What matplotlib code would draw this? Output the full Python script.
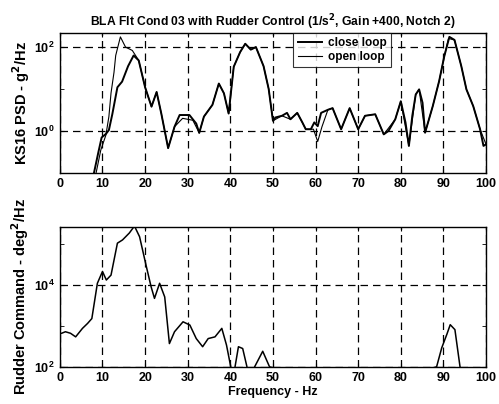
#!/usr/bin/env python3
"""
BLA flight condition 03: KS16 PSD and rudder command PSD with rudder control.
"""

import matplotlib.pyplot as plt
from matplotlib.ticker import FixedLocator, NullFormatter

plt.rcParams["font.family"] = ["Liberation Sans", "DejaVu Sans"]
plt.rcParams["font.weight"] = "bold"
plt.rcParams["mathtext.default"] = "bf"

# KS16 PSD, close loop (g^2/Hz)
close_freq = [8.0, 9.0, 9.8, 10.8, 11.5, 12.3, 13.5, 14.6, 16.0, 17.3, 18.5, 20.0,
              21.5, 22.7, 23.8, 25.4, 26.9, 28.1, 30.4, 32.0, 32.7, 33.8, 35.8,
              37.3, 38.5, 39.6, 40.8, 42.3, 43.5, 44.8, 46.0, 47.8, 49.0, 50.0,
              50.6, 52.1, 53.3, 54.1, 55.7, 56.9, 57.7, 58.9, 59.7, 60.5, 61.3,
              62.9, 64.0, 66.0, 68.0, 70.0, 71.6, 74.0, 76.0, 77.1, 78.7, 80.0,
              81.1, 81.9, 82.7, 83.5, 84.3, 85.1, 85.7, 87.5, 89.0, 90.2, 91.4,
              92.6, 94.2, 95.4, 97.0, 98.6, 99.4, 100.0]
close_psd = [0.1, 0.3, 0.7, 0.85, 1.05, 2.5, 11.0, 15.0, 35.0, 63.0, 48.0, 11.0,
             3.8, 8.5, 2.6, 0.39, 1.26, 2.4, 2.4, 1.5, 0.9, 2.2, 4.2,
             13.5, 7.9, 2.6, 34.0, 76.0, 120.0, 87.0, 100.0, 35.0, 10.0, 1.75,
             2.1, 2.3, 2.7, 1.9, 2.7, 1.6, 1.1, 1.1, 1.6, 1.3, 2.7,
             3.2, 3.5, 1.1, 3.5, 1.1, 2.3, 2.5, 0.83, 1.0, 1.9, 5.1,
             1.6, 0.44, 2.3, 7.4, 9.8, 4.7, 0.91, 3.9, 15.5, 60.0, 175.0,
             148.0, 35.0, 9.8, 3.9, 1.1, 0.44, 0.48]

# KS16 PSD, open loop (g^2/Hz)
open_freq = [8.5, 9.6, 10.8, 11.5, 12.0, 12.7, 13.1, 14.2, 15.4, 17.0, 18.5, 20.0,
             21.5, 22.7, 23.8, 25.4, 26.9, 28.8, 31.2, 32.7, 33.8, 35.8, 37.3,
             38.5, 39.6, 40.8, 42.3, 43.5, 44.8, 46.0, 47.8, 49.0, 50.0, 52.1,
             54.1, 55.7, 57.7, 59.5, 60.5, 61.5, 62.9, 64.0, 66.0, 68.0, 70.0,
             71.6, 74.0, 76.0, 78.7, 80.0, 81.9, 83.5, 84.3, 85.7, 87.5, 89.0,
             90.2, 91.2, 92.6, 94.2, 95.4, 97.0, 98.6, 100.0]
open_psd = [0.1, 0.35, 0.8, 2.2, 8.0, 25.0, 63.0, 175.0, 100.0, 83.0, 48.0, 11.0,
            3.8, 8.5, 2.6, 0.39, 1.26, 2.0, 1.8, 0.9, 2.2, 4.2, 13.5,
            7.9, 2.6, 34.0, 76.0, 120.0, 87.0, 100.0, 35.0, 10.0, 1.75, 2.3,
            1.9, 2.7, 1.1, 1.1, 0.56, 1.26, 3.2, 3.5, 1.1, 3.5, 1.1,
            2.3, 2.5, 0.83, 1.9, 5.1, 0.44, 7.4, 9.8, 0.91, 3.9, 15.5,
            60.0, 160.0, 148.0, 35.0, 9.8, 3.9, 1.1, 0.48]

# Rudder command PSD (deg^2/Hz)
rud_freq = [0.4, 1.3, 2.5, 3.7, 5.3, 6.5, 7.5, 8.8, 10.0, 10.9, 12.0, 13.5, 14.7,
            16.3, 17.5, 18.7, 20.2, 21.4, 22.2, 23.4, 24.6, 25.7, 26.9, 28.9,
            30.5, 32.0, 33.5, 34.8, 36.4, 38.0, 39.1, 40.1, 40.6, 41.1, 41.9,
            42.9, 43.9, 44.8, 45.7, 47.6, 49.2, 70.0, 88.4, 89.6, 90.8, 91.6,
            92.7, 93.9, 96.0, 100.0]
rud_psd = [660, 720, 660, 540, 870, 1150, 1510, 11000, 21400, 13200, 17400,
           105000, 126000, 186000, 275000, 151000, 30900, 9100, 4700, 11000,
           5100, 370, 720, 1260, 1050, 490, 310, 490, 540, 870, 340, 100, 30,
           100, 310, 280, 100, 30, 100, 240, 100, 30, 100, 290, 620, 1070, 810,
           100, 30, 30]

GRID_KW = dict(color="black", linestyle=(0, (6, 4)), linewidth=0.9)

fig = plt.figure(figsize=(4.99, 4.04), dpi=100)
ax1 = fig.add_axes([0.120, 0.572, 0.854, 0.346])
ax2 = fig.add_axes([0.120, 0.092, 0.854, 0.346])

ax1.plot(close_freq, close_psd, color="black", linewidth=1.4, label="close loop")
ax1.plot(open_freq, open_psd, color="black", linewidth=0.8, label="open loop")
ax1.set_yscale("log")
ax1.set_ylim(0.1, 215)
ax1.yaxis.set_major_locator(FixedLocator([1, 100]))
ax1.yaxis.set_minor_locator(FixedLocator([10]))
ax1.yaxis.set_minor_formatter(NullFormatter())
ax1.set_ylabel("KS16 PSD - g$^2$/Hz", fontsize=10.5, fontweight="bold", labelpad=2)
ax1.set_title("BLA Flt Cond 03 with Rudder Control (1/s$^2$, Gain +400, Notch 2)",
              fontsize=8.7, fontweight="bold", pad=5)
leg = ax1.legend(loc="upper left", bbox_to_anchor=(0.548, 1.003), fontsize=8.5,
                 frameon=True, fancybox=False, edgecolor="black", handlelength=2.1,
                 handletextpad=0.5, borderpad=0.35, labelspacing=0.2,
                 borderaxespad=0.0)
leg.get_frame().set_linewidth(0.8)

ax2.plot(rud_freq, rud_psd, color="black", linewidth=1.1)
ax2.set_yscale("log")
ax2.set_ylim(100, 2.6e5)
ax2.yaxis.set_major_locator(FixedLocator([100, 1e4]))
ax2.yaxis.set_minor_locator(FixedLocator([1e3, 1e5]))
ax2.yaxis.set_minor_formatter(NullFormatter())
ax2.set_ylabel("Rudder Command - deg$^2$/Hz", fontsize=10.5, fontweight="bold",
               labelpad=2)
ax2.set_xlabel("Frequency - Hz", fontsize=9, fontweight="bold", labelpad=2)

for ax in (ax1, ax2):
    ax.set_xlim(0, 100)
    ax.set_xticks(range(0, 101, 10))
    ax.grid(True, which="major", **GRID_KW)
    ax.tick_params(which="both", direction="in", top=True, right=True,
                   labelsize=9, length=3)
    for lbl in ax.get_xticklabels() + ax.get_yticklabels():
        lbl.set_fontweight("bold")
    for sp in ax.spines.values():
        sp.set_linewidth(1.0)

fig.savefig("out.png", dpi=100)
